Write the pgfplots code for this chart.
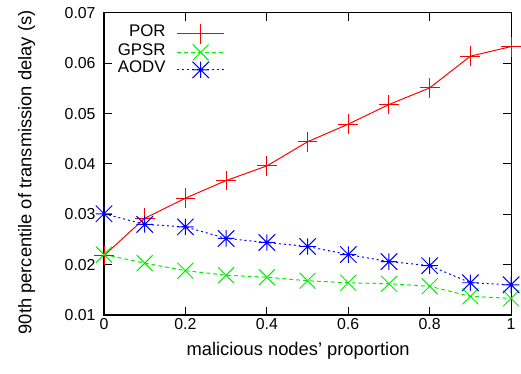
\documentclass[border=0pt]{standalone}
\usepackage{fontspec}
\setmainfont{Liberation Sans}
\usepackage{pgfplots}
\pgfplotsset{compat=1.18}

\pgfdeclareplotmark{gpstar}{%
  \pgfpathmoveto{\pgfqpoint{-\pgfplotmarksize}{0pt}}%
  \pgfpathlineto{\pgfqpoint{\pgfplotmarksize}{0pt}}%
  \pgfpathmoveto{\pgfqpoint{0pt}{-\pgfplotmarksize}}%
  \pgfpathlineto{\pgfqpoint{0pt}{\pgfplotmarksize}}%
  \pgfpathmoveto{\pgfqpoint{-\pgfplotmarksize}{-\pgfplotmarksize}}%
  \pgfpathlineto{\pgfqpoint{\pgfplotmarksize}{\pgfplotmarksize}}%
  \pgfpathmoveto{\pgfqpoint{-\pgfplotmarksize}{\pgfplotmarksize}}%
  \pgfpathlineto{\pgfqpoint{\pgfplotmarksize}{-\pgfplotmarksize}}%
  \pgfusepathqstroke
}
\pgfdeclareplotmark{gpx}{%
  \pgfpathmoveto{\pgfqpoint{-\pgfplotmarksize}{-\pgfplotmarksize}}%
  \pgfpathlineto{\pgfqpoint{\pgfplotmarksize}{\pgfplotmarksize}}%
  \pgfpathmoveto{\pgfqpoint{-\pgfplotmarksize}{\pgfplotmarksize}}%
  \pgfpathlineto{\pgfqpoint{\pgfplotmarksize}{-\pgfplotmarksize}}%
  \pgfusepathqstroke
}

\definecolor{gpred}{RGB}{255,0,0}
\definecolor{gpgreen}{RGB}{0,240,0}
\definecolor{gpblue}{RGB}{0,0,255}

\begin{document}
\begin{tikzpicture}
\begin{axis}[
  at={(0,0)}, anchor=south west,
  scale only axis, width=411pt, height=305pt,
  xmin=0, xmax=1, ymin=0.01, ymax=0.07,
  xtick={0,0.2,0.4,0.6,0.8,1},
  ytick={0.01,0.02,0.03,0.04,0.05,0.06,0.07},
  tick align=inside, major tick length=8pt,
  axis line style={line width=1.1pt},
  every tick/.style={black, line width=1pt},
  tick label style={font=\fontsize{16}{18}\selectfont},
  label style={font=\fontsize{18.5}{20}\selectfont},
  /pgf/number format/assume math mode=true,
  yticklabel style={xshift=-5pt, /pgf/number format/.cd, fixed, fixed zerofill, precision=2},
  xticklabel style={/pgf/number format/.cd, fixed, precision=1},
  scaled y ticks=false,
  xlabel={malicious nodes' proportion},
  ylabel={90th percentile of transmission delay (s)},
  xlabel style={at={(axis description cs:0.477,-0.0885)}, anchor=north, inner sep=0pt},
  ylabel style={at={(axis description cs:-0.2117,0.472)}, anchor=north, inner sep=0pt, rotate=0},
  legend cell align=right,
  legend plot pos=right,
  legend style={draw=none, fill=none, at={(axis description cs:0.034,0.964)}, anchor=north west,
    inner sep=0pt, outer sep=0pt, column sep=11pt, row sep=0pt,
    nodes={inner sep=0pt, text height=12pt, text depth=5.7pt, font=\fontsize{17}{17.5}\selectfont},
    font=\fontsize{17}{17.5}\selectfont},
  legend image code/.code={\draw[mark repeat=2,mark phase=2,#1] plot coordinates {(0pt,0pt)(24pt,0pt)(48pt,0pt)};},
]
\addplot[gpred, line width=1pt, mark=+, mark size=10pt] coordinates {
 (0,0.0218) (0.1,0.0292) (0.2,0.0332) (0.3,0.0367) (0.4,0.0396) (0.5,0.0444)
 (0.6,0.0479) (0.7,0.0518) (0.8,0.0551) (0.9,0.0614) (1,0.0633)};
\addlegendentry{POR}
\addplot[gpgreen, line width=1pt, dash pattern=on 4pt off 3pt, mark=gpx, mark size=8pt, mark options={solid}] coordinates {
 (0,0.0220) (0.1,0.0203) (0.2,0.0188) (0.3,0.0179) (0.4,0.0175) (0.5,0.0168)
 (0.6,0.0164) (0.7,0.0162) (0.8,0.0157) (0.9,0.0137) (1,0.0133)};
\addlegendentry{GPSR}
\addplot[gpblue, line width=1pt, dash pattern=on 2pt off 3pt, mark=gpstar, mark size=8.3pt, mark options={solid}] coordinates {
 (0,0.0301) (0.1,0.0280) (0.2,0.0275) (0.3,0.0252) (0.4,0.0244) (0.5,0.0236)
 (0.6,0.0220) (0.7,0.0206) (0.8,0.0198) (0.9,0.0164) (1,0.0160)};
\addlegendentry{AODV}
\end{axis}
\path (-105pt,-59pt) rectangle (416pt,318pt);
\end{tikzpicture}
\end{document}
